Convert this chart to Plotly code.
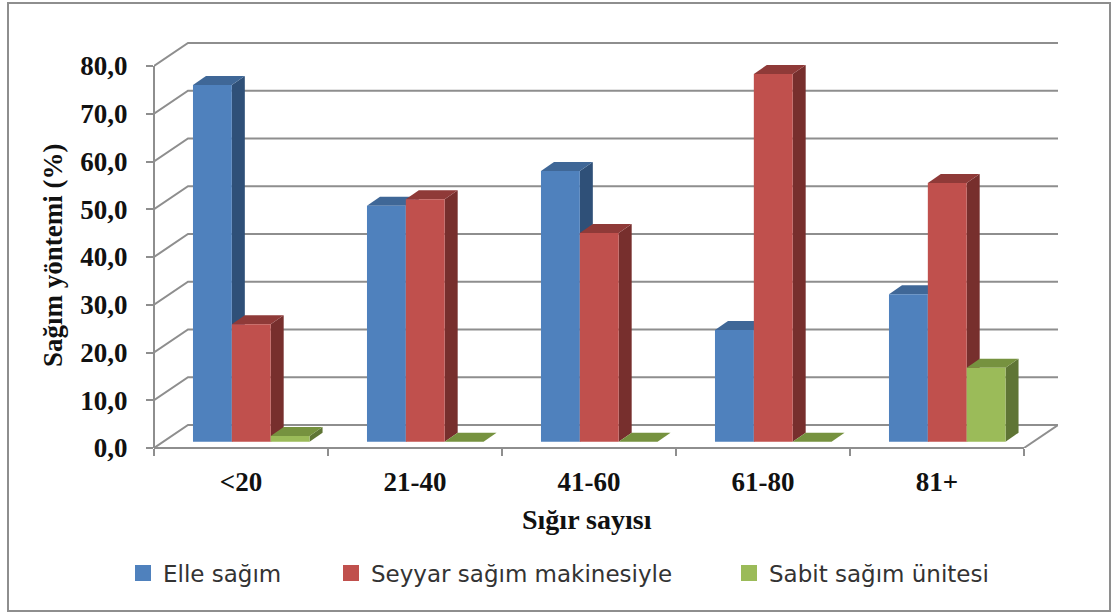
import plotly.graph_objects as go

categories = ["<20", "21-40", "41-60", "61-80", "81+"]
elle = [74.7, 49.4, 56.7, 23.4, 30.9]
seyyar = [24.6, 50.8, 43.7, 77.0, 54.2]
sabit = [1.2, 0.0, 0.0, 0.0, 15.5]
series_names = ["Elle sağım", "Seyyar sağım makinesiyle", "Sabit sağım ünitesi"]
y_ticks = [0, 10, 20, 30, 40, 50, 60, 70, 80]

FRONT = ["#4F81BD", "#C0504D", "#9BBB59"]
TOP = ["#3F6797", "#8F3A38", "#76923F"]
SIDE = ["#2F5078", "#772F2D", "#5F7535"]
GRID = "#8E8E8E"
SERIF = "Liberation Serif"

W, H = 1116, 614
L, R, T, B = 154, 1058, 42, 448      # plot box in page pixels
PX_X = 174.0                         # pixels per category
PX_Y = 4.775                         # pixels per percentage point
WALL_DX, WALL_DY = 34 / PX_X, 23 / PX_Y
BAR_DX, BAR_DY = 13 / PX_X, 9 / PX_Y
BASE = 6.3 / PX_Y
BAR_W = 0.2233
GROUP_LEFT = 0.224
GROUP_C = GROUP_LEFT + 1.5 * BAR_W


def px(x):
    return (x - L) / (R - L)


def py(y):
    return (B - y) / (B - T)


fig = go.Figure()

# back wall and floor lines
for v in y_ticks:
    fig.add_trace(go.Scatter(
        x=[0, WALL_DX, 5 + WALL_DX], y=[v, v + WALL_DY, v + WALL_DY],
        mode="lines", line=dict(color=GRID, width=2),
        showlegend=False, hoverinfo="skip"))
fig.add_trace(go.Scatter(
    x=[5, 5 + WALL_DX], y=[0, WALL_DY], mode="lines",
    line=dict(color=GRID, width=2), showlegend=False, hoverinfo="skip"))

# depth faces of the bars, built from the values
for k, vals in enumerate([elle, seyyar, sabit]):
    for i, v in enumerate(vals):
        x0 = i + GROUP_LEFT + k * BAR_W
        x1 = x0 + BAR_W
        top = BASE + v
        fig.add_trace(go.Scatter(
            x=[x1, x1 + BAR_DX, x1 + BAR_DX, x1, x1],
            y=[BASE, BASE + BAR_DY, top + BAR_DY, top, BASE],
            mode="lines", fill="toself", fillcolor=SIDE[k],
            line=dict(width=0, color=SIDE[k]),
            showlegend=False, hoverinfo="skip"))
        fig.add_trace(go.Scatter(
            x=[x0, x0 + BAR_DX, x1 + BAR_DX, x1, x0],
            y=[top, top + BAR_DY, top + BAR_DY, top, top],
            mode="lines", fill="toself", fillcolor=TOP[k],
            line=dict(width=0, color=TOP[k]),
            showlegend=False, hoverinfo="skip"))

# front faces on an overlaying pair of axes, so they cover the depth faces
xc = [i + GROUP_C for i in range(len(categories))]
for k, vals in enumerate([elle, seyyar, sabit]):
    fig.add_trace(go.Bar(
        x=xc, y=vals, base=[BASE] * len(vals), name=series_names[k],
        marker=dict(color=FRONT[k], line=dict(width=0)),
        xaxis="x2", yaxis="y2", showlegend=False))

# legend entries, one legend each so that they can sit where the original has them
legend_px = [123, 331, 729]
layout_legends = {}
for k, name in enumerate(series_names):
    key = "legend" if k == 0 else f"legend{k + 1}"
    fig.add_trace(go.Scatter(
        x=[None], y=[None], mode="markers", name=name,
        marker=dict(symbol="square", size=16, color=FRONT[k]),
        legend=key, showlegend=True))
    layout_legends[key] = dict(
        x=px(legend_px[k]), y=py(573), xanchor="left", yanchor="middle",
        bgcolor="rgba(0,0,0,0)", orientation="h",
        font=dict(family="DejaVu Sans", size=23, color="#333333"))

x_range = [0, (R - L) / PX_X]
y_range = [0, (B - T) / PX_Y]

fig.update_layout(
    width=W, height=H, autosize=False,
    margin=dict(l=L, r=W - R, t=T, b=H - B, pad=0),
    paper_bgcolor="white", plot_bgcolor="rgba(0,0,0,0)",
    barmode="group", bargap=1 - 3 * BAR_W, bargroupgap=0,
    separators=", ",
    xaxis=dict(
        range=x_range, showgrid=False, zeroline=False, showline=False,
        tickmode="array", tickvals=[i + 0.5 for i in range(5)], ticktext=categories,
        ticks="", ticklabelstandoff=15,
        minor=dict(ticks="outside", tickmode="array", tickvals=list(range(6)),
                   ticklen=7, tickwidth=2, tickcolor=GRID, showgrid=False),
        tickfont=dict(family=SERIF, size=27, color="#111111", weight="bold")),
    yaxis=dict(
        range=y_range, showgrid=False, zeroline=False, showline=False,
        tickmode="array", tickvals=y_ticks, tickformat=".1f",
        ticks="outside", ticklen=7, tickwidth=2, tickcolor=GRID, ticklabelstandoff=13,
        tickfont=dict(family=SERIF, size=27, color="#111111", weight="bold")),
    xaxis2=dict(overlaying="x", matches="x", visible=False),
    yaxis2=dict(overlaying="y", matches="y", visible=False),
    shapes=[
        dict(type="rect", xref="paper", yref="paper",
             x0=px(8), x1=px(1110), y0=py(3), y1=py(611),
             line=dict(color=GRID, width=2), layer="below"),
        dict(type="line", xref="paper", yref="paper",
             x0=0, x1=0, y0=0, y1=80 * PX_Y / (B - T),
             line=dict(color=GRID, width=2), layer="above"),
        dict(type="line", xref="paper", yref="paper",
             x0=0, x1=5 * PX_X / (R - L), y0=0, y1=0,
             line=dict(color=GRID, width=2), layer="above"),
    ],
    annotations=[
        dict(text="<b>Sağım yöntemi (%)</b>", xref="paper", yref="paper",
             x=px(53), y=py(256), textangle=-90, showarrow=False,
             xanchor="center", yanchor="middle",
             font=dict(family=SERIF, size=27, color="#111111")),
        dict(text="<b>Sığır sayısı</b>", xref="paper", yref="paper",
             x=px(587), y=py(519), showarrow=False,
             xanchor="center", yanchor="middle",
             font=dict(family=SERIF, size=28, color="#111111")),
    ],
    **layout_legends,
)

fig.write_html("out.html", config=dict(displayModeBar=False),
               post_script="document.body.style.margin='0';")
